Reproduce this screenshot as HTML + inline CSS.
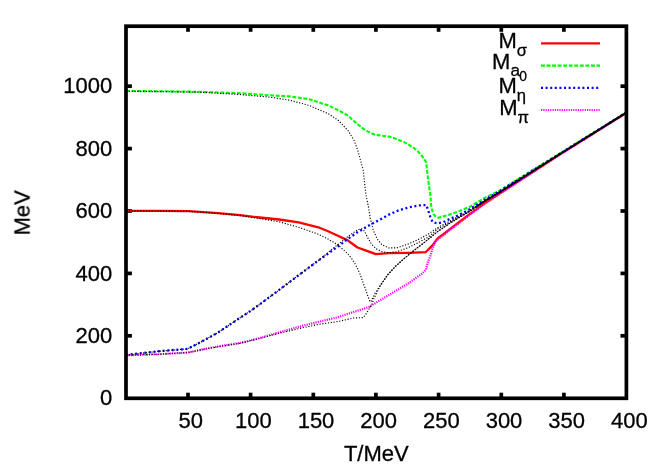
<!DOCTYPE html>
<html><head><meta charset="utf-8"><title>Meson masses</title>
<style>html,body{margin:0;padding:0;background:#fff;}svg{display:block;} text{-webkit-font-smoothing:antialiased;}</style>
</head><body>
<svg width="664" height="465" viewBox="0 0 664 465">
<rect width="664" height="465" fill="#fff"/>
<g stroke="#000" stroke-width="3.7" fill="none">
<line x1="188.0" y1="398.3" x2="188.0" y2="392.7"/>
<line x1="188.0" y1="26.2" x2="188.0" y2="31.799999999999997"/>
<line x1="250.6" y1="398.3" x2="250.6" y2="392.7"/>
<line x1="250.6" y1="26.2" x2="250.6" y2="31.799999999999997"/>
<line x1="313.3" y1="398.3" x2="313.3" y2="392.7"/>
<line x1="313.3" y1="26.2" x2="313.3" y2="31.799999999999997"/>
<line x1="375.9" y1="398.3" x2="375.9" y2="392.7"/>
<line x1="375.9" y1="26.2" x2="375.9" y2="31.799999999999997"/>
<line x1="438.6" y1="398.3" x2="438.6" y2="392.7"/>
<line x1="438.6" y1="26.2" x2="438.6" y2="31.799999999999997"/>
<line x1="501.3" y1="398.3" x2="501.3" y2="392.7"/>
<line x1="501.3" y1="26.2" x2="501.3" y2="31.799999999999997"/>
<line x1="563.9" y1="398.3" x2="563.9" y2="392.7"/>
<line x1="563.9" y1="26.2" x2="563.9" y2="31.799999999999997"/>
<line x1="126.0" y1="335.8" x2="131.9" y2="335.8"/>
<line x1="626.4" y1="335.8" x2="620.5" y2="335.8"/>
<line x1="126.0" y1="273.4" x2="131.9" y2="273.4"/>
<line x1="626.4" y1="273.4" x2="620.5" y2="273.4"/>
<line x1="126.0" y1="211.0" x2="131.9" y2="211.0"/>
<line x1="626.4" y1="211.0" x2="620.5" y2="211.0"/>
<line x1="126.0" y1="148.6" x2="131.9" y2="148.6"/>
<line x1="626.4" y1="148.6" x2="620.5" y2="148.6"/>
<line x1="126.0" y1="86.2" x2="131.9" y2="86.2"/>
<line x1="626.4" y1="86.2" x2="620.5" y2="86.2"/>
</g>
<g fill="none" stroke-linejoin="round">
<polyline points="126.0,210.8 160.0,210.9 188.5,211.1 217.9,213.1 240.0,215.2 259.6,217.5 279.2,219.5 298.7,222.4 318.3,227.3 328.1,231.2 337.9,235.7 347.7,240.4 352.0,243.5 357.5,247.5 365.5,250.4 375.8,254.1 388.9,253.1 408.5,252.8 425.6,252.2 432.0,245.9 437.9,238.1 443.0,234.5 449.6,229.3 458.0,223.0 470.0,213.9 485.0,203.1 500.0,193.2 530.0,173.8 560.0,154.4 626.4,112.8" stroke="#ff0000" stroke-width="2.3"/>
<polyline points="126.0,91.0 160.0,91.2 200.0,91.8 240.0,93.2 270.0,95.3 289.6,96.4 309.2,99.2 328.7,105.6 340.0,111.1 348.3,115.8 352.7,120.0 358.1,124.6 363.5,128.8 367.9,131.6 372.0,133.5 375.2,134.7 381.0,135.5 388.9,136.6 395.0,138.4 402.6,141.5 408.5,144.5 414.4,148.4 418.5,152.0 422.2,156.2 426.1,162.1 427.1,170.9 429.1,186.6 430.4,195.0 431.0,204.2 431.8,209.2 433.6,214.2 436.0,216.8 438.3,217.8 443.0,216.5 449.6,214.4 458.0,211.6 470.0,206.7 485.0,197.7 500.0,190.4 530.0,171.7 560.0,153.5 626.4,112.3" stroke="#00ff00" stroke-width="2.1" stroke-dasharray="3.9 1.65"/>
<polyline points="126.0,355.0 159.2,351.2 187.5,348.9 198.3,343.4 217.9,332.6 237.5,319.5 250.0,311.3 259.6,304.5 279.2,289.9 298.7,275.1 318.3,260.6 337.9,246.5 347.7,239.0 357.5,232.2 369.4,225.3 379.2,220.0 388.9,214.6 398.7,210.3 408.5,207.5 418.3,205.5 426.2,205.0 427.8,209.3 430.3,216.9 432.6,222.0 437.3,223.5 443.0,222.3 449.6,219.0 458.0,215.5 470.0,209.0 485.0,199.6 500.0,190.9 530.0,172.2 560.0,153.6 626.4,112.4" stroke="#0000ff" stroke-width="2.3" stroke-dasharray="2 2.6"/>
<polyline points="126.0,355.3 159.2,354.2 187.5,352.6 208.1,348.3 227.7,344.9 240.0,343.0 259.6,338.1 279.2,332.3 298.7,326.8 318.3,321.9 337.9,317.2 349.6,313.3 357.5,310.8 369.2,306.9 388.7,295.1 408.3,283.4 422.0,273.6 425.9,269.7 427.9,261.9 430.8,255.0 432.0,249.8 435.9,241.0 441.8,236.4 449.6,230.2 458.0,223.9 470.0,214.6 485.0,203.6 500.0,193.6 530.0,174.1 560.0,154.6 626.4,112.9" stroke="#ff00ff" stroke-width="2.2" stroke-dasharray="1.2 1.1"/>
<polyline points="126.0,210.8 188.5,211.3 217.9,213.3 240.0,215.6 259.6,218.5 279.2,221.8 298.7,227.3 318.3,234.2 328.1,239.0 337.9,244.9 347.7,253.7 351.7,258.5 355.5,264.5 360.3,274.6 363.3,283.5 365.2,288.3 367.5,295.0 369.5,300.5 371.0,302.0 372.5,298.2 375.5,292.6 379.5,286.5 387.6,274.8 395.1,266.6 402.6,259.8 411.6,252.3 418.3,247.0 425.0,241.8 432.0,236.0 437.9,231.3 449.6,223.3 458.0,218.2 470.0,211.2 485.0,200.9 500.0,192.0 530.0,173.0 560.0,154.0 626.4,112.6" stroke="#000" stroke-width="1.15" stroke-dasharray="1.15 1.7"/>
<polyline points="126.0,91.2 200.0,92.2 240.0,94.5 270.0,97.2 289.6,100.2 309.2,105.5 328.7,113.9 338.5,120.5 348.3,130.9 354.2,140.7 358.1,151.5 361.0,162.2 363.4,171.0 364.5,182.6 366.0,195.0 368.4,206.7 370.3,218.5 373.3,230.2 377.2,239.0 382.1,244.9 388.9,247.9 396.8,247.9 408.5,243.9 418.3,239.6 428.1,234.2 437.9,227.5 449.6,221.2 458.0,216.8 470.0,210.3 485.0,200.5 500.0,191.7 530.0,172.9 560.0,154.0 626.4,112.6" stroke="#000" stroke-width="1.15" stroke-dasharray="1.15 1.7"/>
<polyline points="126.0,355.0 159.2,351.2 187.5,348.9 198.3,343.4 217.9,332.6 237.5,319.5 250.0,311.3 259.6,304.5 279.2,289.9 298.7,275.1 318.3,260.6 337.9,244.5 349.8,235.1 357.6,229.8 361.5,228.7 364.5,231.2 367.4,237.1 371.3,243.9 376.2,248.8 382.1,251.8 388.9,252.8 396.8,251.8 408.5,247.5 418.3,242.6 428.1,237.1 437.9,229.0 449.6,222.3 458.0,217.5 470.0,210.8 485.0,200.7 500.0,191.9 530.0,173.0 560.0,154.0 626.4,112.6" stroke="#000" stroke-width="1.15" stroke-dasharray="1.15 1.7"/>
<polyline points="126.0,355.3 159.2,354.2 187.5,352.6 208.1,348.5 227.7,345.1 240.0,343.3 259.6,338.5 279.2,333.2 298.7,328.7 318.3,324.4 337.9,321.5 353.5,318.0 363.3,317.6 366.2,313.7 369.2,308.8 371.8,304.5 374.0,298.4 377.0,292.3 380.0,286.3 387.6,275.0 395.1,266.8 402.6,260.0 411.6,252.5 418.3,247.2 425.0,242.0 432.0,236.2 437.9,231.5 449.6,223.5 458.0,218.3 470.0,211.3 485.0,201.0 500.0,192.1 530.0,173.1 560.0,154.1 626.4,112.6" stroke="#000" stroke-width="1.15" stroke-dasharray="1.15 1.7"/>
<polyline points="476.0,207.0 485.0,201.0 500.0,192.0 530.0,173.0 560.0,154.0 626.4,112.6" stroke="#000" stroke-width="1.9" stroke-opacity="0.82"/>
<polyline points="379.5,286.5 387.6,274.9 395.1,266.7 402.6,259.9 411.6,252.4 418.3,247.1 425.0,241.9 432.0,236.1 437.9,231.4 449.6,223.4 458.0,218.2 470.0,211.2 485.0,201.0" stroke="#000" stroke-width="0.9" stroke-opacity="0.35"/>
<line x1="541" y1="43.4" x2="600" y2="43.4" stroke="#ff0000" stroke-width="2.3"/>
<line x1="541" y1="65.6" x2="600" y2="65.6" stroke="#00ff00" stroke-width="2.1" stroke-dasharray="3.9 1.65"/>
<line x1="541" y1="87.9" x2="600" y2="87.9" stroke="#0000ff" stroke-width="2.3" stroke-dasharray="2 2.6"/>
<line x1="541" y1="110" x2="600" y2="110" stroke="#ff00ff" stroke-width="2.2" stroke-dasharray="1.2 1.1"/>
</g>
<rect x="126.0" y="26.2" width="500.4" height="372.1" stroke="#000" stroke-width="3.7" fill="none"/>
<g font-family="Liberation Sans, sans-serif" font-size="22" fill="#000" stroke="#000" stroke-width="0.3" opacity="0.999">
<text x="112.2" y="405.4" text-anchor="end">0</text>
<text x="112.2" y="343.0" text-anchor="end">200</text>
<text x="112.2" y="280.6" text-anchor="end">400</text>
<text x="112.2" y="218.2" text-anchor="end">600</text>
<text x="112.2" y="155.8" text-anchor="end">800</text>
<text x="112.2" y="93.4" text-anchor="end">1000</text>
<text x="190.7" y="427.8" text-anchor="middle">50</text>
<text x="253.3" y="427.8" text-anchor="middle">100</text>
<text x="316.0" y="427.8" text-anchor="middle">150</text>
<text x="378.6" y="427.8" text-anchor="middle">200</text>
<text x="441.3" y="427.8" text-anchor="middle">250</text>
<text x="504.0" y="427.8" text-anchor="middle">300</text>
<text x="566.6" y="427.8" text-anchor="middle">350</text>
<text x="629.3" y="427.8" text-anchor="middle">400</text>
<text x="376.3" y="461.3" text-anchor="middle">T/MeV</text>
<text transform="translate(29.6,212.9) rotate(-90)" text-anchor="middle">MeV</text>
<text x="498.4" y="47.8">M<tspan font-size="16.6" dy="8.2">σ</tspan></text>
<text x="492.1" y="68.5">M<tspan font-size="17.2" dy="7.4">a</tspan><tspan font-size="13.8" dx="-0.8" dy="5.4">0</tspan></text>
<text x="498.4" y="92.9">M<tspan font-size="16.6" dy="8.2">η</tspan></text>
<text x="499.2" y="114.5">M<tspan font-size="16.6" dy="8.0">π</tspan></text>
</g>
</svg>
</body></html>
